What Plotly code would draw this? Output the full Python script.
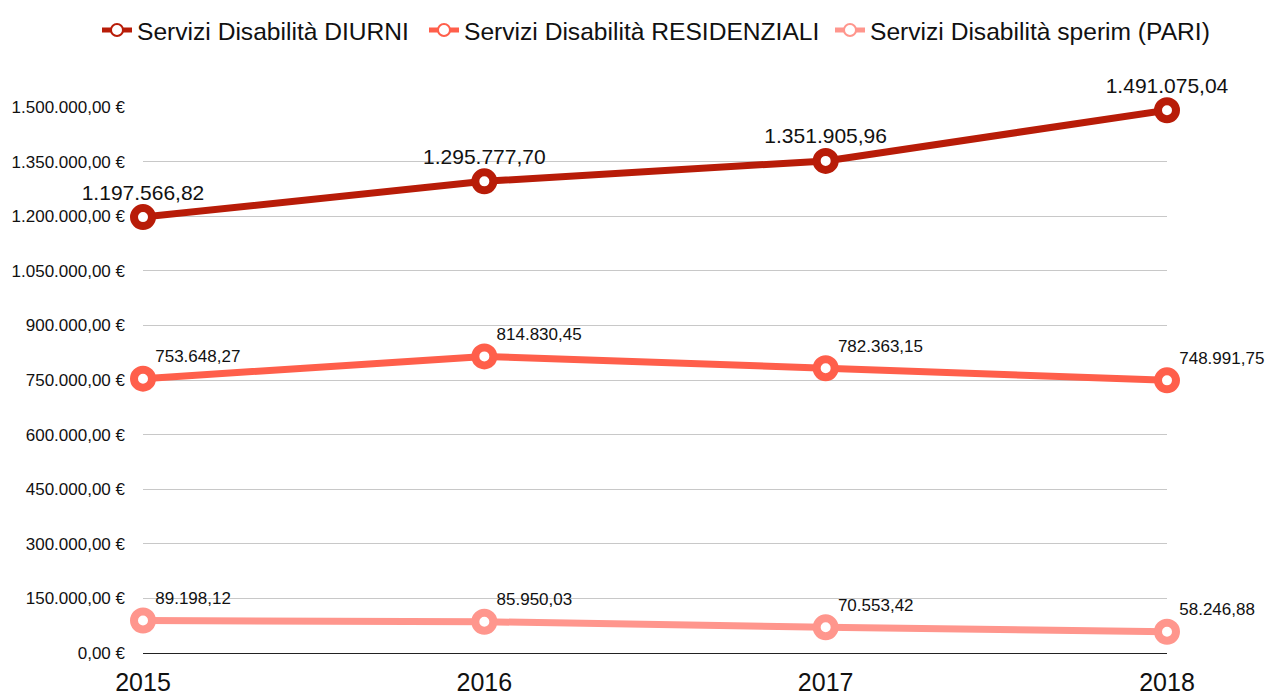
import plotly.graph_objects as go

# --- Dati ---
anni = [2015, 2016, 2017, 2018]
diurni = [1197566.82, 1295777.70, 1351905.96, 1491075.04]
residenziali = [753648.27, 814830.45, 782363.15, 748991.75]
pari = [89198.12, 85950.03, 70553.42, 58246.88]
tick_y = [0, 150000, 300000, 450000, 600000, 750000, 900000, 1050000, 1200000, 1350000, 1500000]


def fmt_it(v):
    # formato italiano: 1.234.567,89
    s = f"{v:,.2f}"
    return s.replace(",", "X").replace(".", ",").replace("X", ".")


# nome, valori, colore, posizione etichette, dimensione font, legenda
serie = [
    ("Servizi Disabilità DIURNI", diurni, "#b81c08", "top center", 21, "legend"),
    ("Servizi Disabilità RESIDENZIALI", residenziali, "#ff5f4b", "top right", 17, "legend2"),
    ("Servizi Disabilità sperim (PARI)", pari, "#ff968d", "top right", 17, "legend3"),
]

fig = go.Figure()

for nome, valori, colore, pos, fsize, leg in serie:
    fig.add_trace(go.Scatter(
        x=anni,
        y=valori,
        mode="lines+markers+text",
        name=nome,
        legend=leg,
        text=[fmt_it(v) for v in valori],
        textposition=pos,
        textfont=dict(size=fsize, color="#111111"),
        line=dict(color=colore, width=7),
        marker=dict(symbol="circle", size=18, color="white",
                    line=dict(color=colore, width=8)),
        cliponaxis=False,
    ))

# una legenda per voce, così le voci restano su una riga
def legenda(x_px):
    return dict(orientation="h", xref="container", yref="container",
                x=x_px / 1269, xanchor="left", y=0.968, yanchor="middle",
                font=dict(size=24.6), itemsizing="constant",
                bgcolor="rgba(0,0,0,0)")

# la pagina ha 8px di margine nel body: dimensioni compensate
fig.update_layout(
    width=1269, height=690,
    font=dict(family="Liberation Sans, Arial, sans-serif", color="#111111"),
    plot_bgcolor="white",
    paper_bgcolor="white",
    margin=dict(l=135, r=110, t=99, b=45, autoexpand=False),
    showlegend=True,
    legend=legenda(89),
    legend2=legenda(416),
    legend3=legenda(822),
    xaxis=dict(
        range=[2015, 2018],
        tickvals=anni,
        ticktext=[str(a) for a in anni],
        showgrid=False,
        zeroline=False,
        automargin=False,
        tickfont=dict(size=25),
        ticklabelstandoff=12,
    ),
    yaxis=dict(
        range=[0, 1500000],
        tickvals=tick_y,
        ticktext=[fmt_it(v) + " €" for v in tick_y],
        gridcolor="#c8c8c8",
        gridwidth=1,
        zeroline=True,
        zerolinecolor="#222222",
        zerolinewidth=1,
        automargin=False,
        tickfont=dict(size=17),
        ticklabelstandoff=17,
    ),
)

fig.write_html("out.html")
